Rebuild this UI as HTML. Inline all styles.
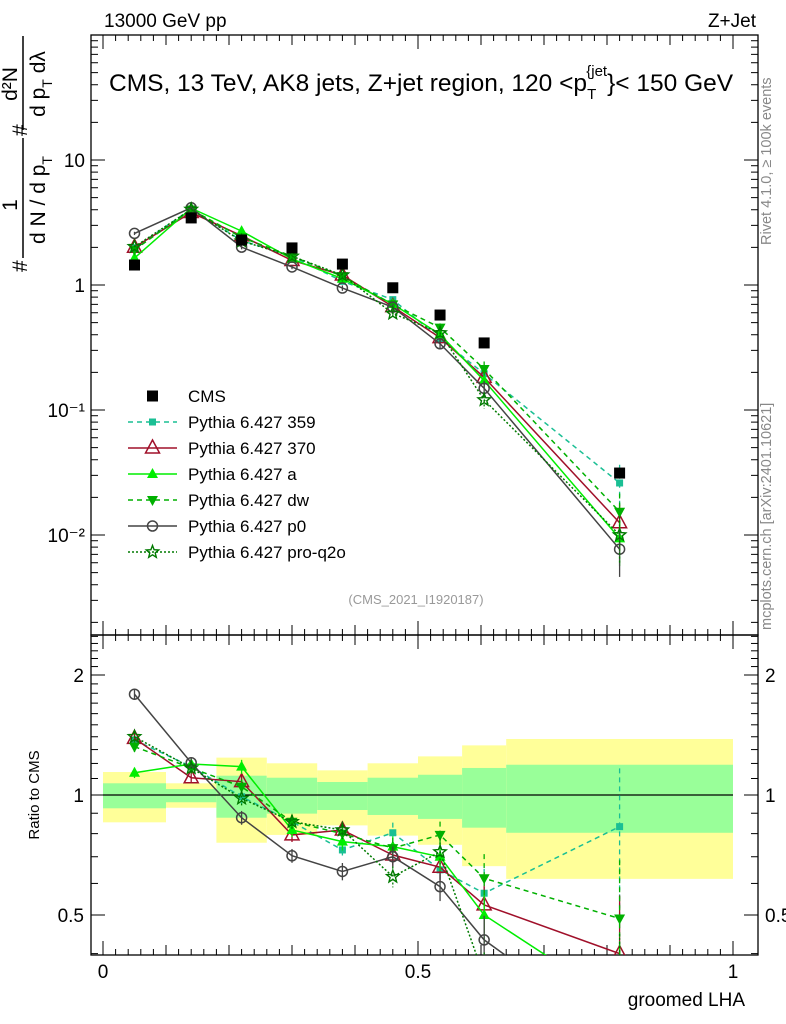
<!DOCTYPE html>
<html><head><meta charset="utf-8"><style>
html,body{margin:0;padding:0;background:#fff;width:786px;height:1024px;overflow:hidden}
svg{display:block;font-family:"Liberation Sans",sans-serif}
#c{position:absolute;left:0;top:0}
</style></head><body>
<svg id="c" width="786" height="1024" viewBox="0 0 786 1024"></svg>
<script>
const xCenters=[0.05,0.14,0.22,0.30,0.38,0.46,0.535,0.605,0.82];
const binEdges=[0,0.1,0.18,0.26,0.34,0.42,0.5,0.57,0.64,1.0];
const cmsValues=[1.445,3.44,2.29,1.98,1.47,0.95,0.575,0.344,0.0313];
const yellowUp=[1.142,1.070,1.241,1.201,1.153,1.201,1.250,1.332,1.382];
const yellowDn=[0.854,0.929,0.759,0.794,0.839,0.791,0.750,0.663,0.616];
const greenUp=[1.070,1.035,1.118,1.105,1.078,1.105,1.124,1.169,1.191];
const greenDn=[0.926,0.959,0.877,0.898,0.917,0.891,0.871,0.828,0.804];
const r359=[1.374,1.178,0.99,0.857,0.728,0.804,0.649,0.567,0.833];
const r370=[1.387,1.105,1.08,0.794,0.817,0.707,0.659,0.53,0.40];
const rA=[1.137,1.196,1.178,0.817,0.764,0.742,0.70,0.50,0.30];
const rDw=[1.322,1.169,1.049,0.857,0.80,0.736,0.794,0.618,0.49];
const rP0=[1.79,1.205,0.877,0.704,0.643,0.70,0.589,0.433,0.246];
const rQ2o=[1.40,1.169,0.981,0.857,0.817,0.624,0.72,0.35,0.32];
const relErr=[0.03,0.03,0.04,0.04,0.05,0.06,0.08,0.15,0.40];
const yTickLabels=["10\u207B\u00B2","10\u207B\u00B9","1","10"];

const NS="http://www.w3.org/2000/svg";
const svg=document.getElementById('c');
function el(tag,attrs,parent){const e=document.createElementNS(NS,tag);for(const k in attrs)e.setAttribute(k,attrs[k]);(parent||svg).appendChild(e);return e;}
const L=91,R=758,T=35,MB=635,RB=955;
const X0=103,XS=630;
const xS=v=>X0+XS*v;
const yMain=v=>285-125*Math.log10(v);
const yRat=v=>795-398.6*Math.log10(v);

const defs=el('defs',{});
const cp1=el('clipPath',{id:'cm'},defs);el('rect',{x:L,y:T,width:R-L,height:MB-T},cp1);
const cp2=el('clipPath',{id:'cr'},defs);el('rect',{x:L,y:MB,width:R-L,height:RB-MB},cp2);

const gBand=el('g',{'clip-path':'url(#cr)'});


for(let i=0;i<xCenters.length;i++){
  const x1=xS(binEdges[i]),x2=xS(binEdges[i+1]);
  const y=el('rect',{x:x1,y:yRat(yellowUp[i]),width:x2-x1,height:yRat(yellowDn[i])-yRat(yellowUp[i]),fill:'#ffff99'},gBand);
  
  
  const g=el('rect',{x:x1,y:yRat(greenUp[i]),width:x2-x1,height:yRat(greenDn[i])-yRat(greenUp[i]),fill:'#99ff99'},gBand);
  
  
}
el('line',{x1:xS(0),x2:xS(1),y1:yRat(1),y2:yRat(1),stroke:'#000','stroke-width':1.3});

el('rect',{x:L,y:T,width:R-L,height:MB-T,fill:'none',stroke:'#000','stroke-width':1.3});
el('rect',{x:L,y:MB,width:R-L,height:RB-MB,fill:'none',stroke:'#000','stroke-width':1.3});

for(let d=-3;d<=1;d++){for(let m=1;m<=9;m++){const v=m*Math.pow(10,d);const y=yMain(v);if(y<T||y>MB)continue;const len=m==1?14:7;
  el('line',{x1:L,x2:L+len,y1:y,y2:y,stroke:'#000'});el('line',{x1:R,x2:R-len,y1:y,y2:y,stroke:'#000'});}}
const ytv=[0.01,0.1,1,10];
ytv.forEach((v,i)=>{const t=el('text',{x:L-6,y:yMain(v)+7,'text-anchor':'end','font-size':19});t.textContent=yTickLabels[i];
  
  });
for(let k=4;k<=25;k++){const v=k/10;const y=yRat(v);if(y<MB||y>RB)continue;const maj=(k==5||k==10||k==20);const len=maj?14:7;
  el('line',{x1:L,x2:L+len,y1:y,y2:y,stroke:'#000'});el('line',{x1:R,x2:R-len,y1:y,y2:y,stroke:'#000'});}
[[2,"2"],[1,"1"],[0.5,"0.5"]].forEach(([v,s])=>{
  const a=el('text',{x:L-7,y:yRat(v)+7,'text-anchor':'end','font-size':19});a.textContent=s;
  
  
  const b=el('text',{x:R+7,y:yRat(v)+7,'font-size':19});b.textContent=s;
  
  });
for(let k=0;k<=50;k++){const v=k/50;const x=xS(v);const maj=k%5==0;const len=(k%25==0)?14:(maj?10:6);
  el('line',{x1:x,x2:x,y1:RB,y2:RB-len,stroke:'#000'});el('line',{x1:x,x2:x,y1:MB,y2:MB+len,stroke:'#000'});
  el('line',{x1:x,x2:x,y1:MB,y2:MB-len,stroke:'#000'});el('line',{x1:x,x2:x,y1:T,y2:T+len,stroke:'#000'});}
[[0,"0"],[0.5,"0.5"],[1,"1"]].forEach(([v,s])=>{const t=el('text',{x:xS(v),y:978,'text-anchor':'middle','font-size':19});t.textContent=s;
  
  });

const series=[
 {n:'pythia-359',r:r359,c:'#1abf94',d:'5,4',m:'sq',lab:'Pythia 6.427 359'},
 {n:'pythia-370',r:r370,c:'#a0102a',d:'',m:'tri',lab:'Pythia 6.427 370'},
 {n:'pythia-a',r:rA,c:'#00ee00',d:'',m:'trif',lab:'Pythia 6.427 a'},
 {n:'pythia-dw',r:rDw,c:'#00b000',d:'5,4',m:'tridn',lab:'Pythia 6.427 dw'},
 {n:'pythia-p0',r:rP0,c:'#444444',d:'',m:'circ',lab:'Pythia 6.427 p0'},
 {n:'pythia-pro-q2o',r:rQ2o,c:'#007a00',d:'2,2',m:'star',lab:'Pythia 6.427 pro-q2o'}
];
function marker(type,x,y,c,g){
  if(type=='sq')return el('rect',{x:x-3.5,y:y-3.5,width:7,height:7,fill:c},g);
  if(type=='tri')return el('polygon',{points:`${x},${y-8} ${x-7},${y+5} ${x+7},${y+5}`,fill:'none',stroke:c,'stroke-width':1.5},g);
  if(type=='trif')return el('polygon',{points:`${x},${y-6} ${x-5.5},${y+4} ${x+5.5},${y+4}`,fill:c},g);
  if(type=='tridn')return el('polygon',{points:`${x},${y+6} ${x-5.5},${y-4} ${x+5.5},${y-4}`,fill:c},g);
  if(type=='circ')return el('circle',{cx:x,cy:y,r:5,fill:'none',stroke:c,'stroke-width':1.5},g);
  if(type=='star'){let p=[];for(let i=0;i<10;i++){const a=-Math.PI/2+i*Math.PI/5;const rr=i%2?2.8:6.5;p.push((x+rr*Math.cos(a)).toFixed(1)+','+(y+rr*Math.sin(a)).toFixed(1));}
    return el('polygon',{points:p.join(' '),fill:'none',stroke:c,'stroke-width':1.4},g);}
}
series.forEach(s=>{
  ['main','ratio'].forEach(panel=>{
    const g=el('g',{'clip-path':panel=='main'?'url(#cm)':'url(#cr)'});
    
    
    const ys=s.r.map((r,i)=>panel=='main'?yMain(r*cmsValues[i]):yRat(r));
    const pts=xCenters.map((x,i)=>xS(x)+','+ys[i]).join(' ');
    el('polyline',{points:pts,fill:'none',stroke:s.c,'stroke-width':1.5,'stroke-dasharray':s.d},g);
    xCenters.forEach((x,i)=>{
      const v=panel=='main'?s.r[i]*cmsValues[i]:s.r[i];
      const f=panel=='main'?yMain:yRat;
      const e=relErr[i];
      el('line',{x1:xS(x),x2:xS(x),y1:f(v*(1+e)),y2:f(v*Math.max(0.05,1-e)),stroke:s.c,'stroke-width':1.3,'stroke-dasharray':s.d},g);
      const mk=marker(s.m,xS(x),ys[i],s.c,g);
      
      
    });
  });
});
const gc=el('g',{'clip-path':'url(#cm)'});


xCenters.forEach((x,i)=>{const r=el('rect',{x:xS(x)-5.5,y:yMain(cmsValues[i])-5.5,width:11,height:11,fill:'#000'},gc);
  
  });

const lg=el('g',{});


const ly0=396,ldy=26;
{el('rect',{x:147,y:ly0-5.5,width:11,height:11,fill:'#000'},lg);const t=el('text',{x:188,y:ly0+6,'font-size':17},lg);t.textContent='CMS';
 
 }
series.forEach((s,i)=>{const y=ly0+ldy*(i+1);
  el('line',{x1:128,x2:177,y1:y,y2:y,stroke:s.c,'stroke-width':1.5,'stroke-dasharray':s.d},lg);
  marker(s.m,152.5,y,s.c,lg);
  const t=el('text',{x:188,y:y+6,'font-size':17},lg);t.textContent=s.lab;
  
  });

const S=`
<text x="104" y="27" font-size="19">13000 GeV pp</text>
<text x="756" y="27" font-size="19" text-anchor="end">Z+Jet</text>
<text x="109" y="91" font-size="24.5">CMS, 13 TeV, AK8 jets, Z+jet region, 120 &lt;p<tspan font-size="15" dy="8">T</tspan><tspan font-size="15" dy="-23" dx="-10">{jet</tspan><tspan dy="15">}&lt; 150 GeV</tspan></text>
<text x="416" y="604" font-size="13" fill="#999" text-anchor="middle">(CMS_2021_I1920187)</text>
<text transform="translate(771,245) rotate(-90)" font-size="14.5" fill="#888">Rivet 4.1.0, ≥ 100k events</text>
<text transform="translate(771,630) rotate(-90)" font-size="14.5" fill="#888">mcplots.cern.ch [arXiv:2401.10621]</text>
<text x="745" y="1006" font-size="19" text-anchor="end">groomed LHA</text>
<text transform="translate(39,795) rotate(-90)" font-size="15" text-anchor="middle">Ratio to CMS</text>
<g>
<text transform="translate(27,272) rotate(-90)" font-size="21">#</text>
<text transform="translate(17,205) rotate(-90)" font-size="21" text-anchor="middle">1</text>
<line x1="23" x2="23" y1="138" y2="258" stroke="#000" stroke-width="1.5"/>
<text transform="translate(45,200) rotate(-90)" font-size="21" text-anchor="middle">d N / d p<tspan font-size="14" dy="7">T</tspan></text>
<text transform="translate(27,136) rotate(-90)" font-size="21">#</text>
<text transform="translate(17,84) rotate(-90)" font-size="21" text-anchor="middle">d²N</text>
<line x1="23" x2="23" y1="36" y2="130" stroke="#000" stroke-width="1.5"/>
<text transform="translate(45,84) rotate(-90)" font-size="21" text-anchor="middle">d p<tspan font-size="14" dy="7">T</tspan><tspan dy="-7"> dλ</tspan></text>
</g>`;
const gs=el('g',{});


gs.innerHTML=S;
</script>
</body></html>
